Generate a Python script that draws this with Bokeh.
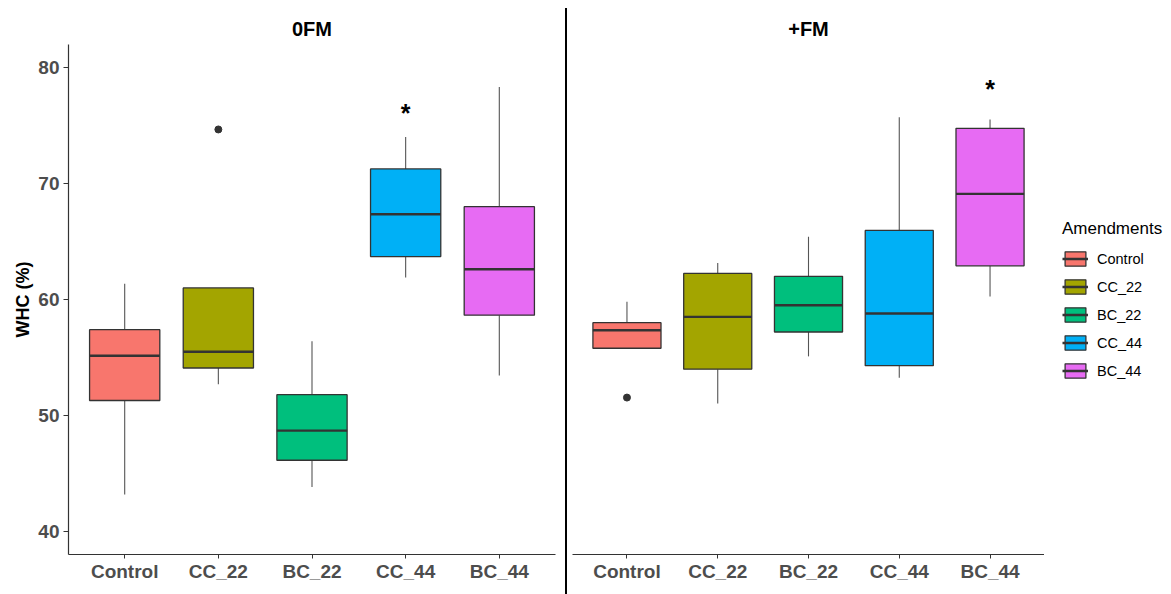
from bokeh.plotting import figure
from bokeh.models import (ColumnDataSource, FactorRange, Range1d, FixedTicker,
                          Legend, LegendItem, Div)
from bokeh.layouts import row
from bokeh.transform import dodge
from bokeh.core.properties import value
from bokeh.embed import file_html
from bokeh.resources import INLINE

amendments = ["Control", "CC_22", "BC_22", "CC_44", "BC_44"]
colors = ["#F8766D", "#A3A500", "#00BF7D", "#00B0F6", "#E76BF3"]
y_ticks = [40, 50, 60, 70, 80]
y_label = "WHC (%)"
legend_title = "Amendments"

# 0FM panel (box statistics)
fm0_lower = [43.2, 52.7, 43.85, 61.9, 53.45]
fm0_q1 = [51.3, 54.1, 46.15, 63.7, 58.65]
fm0_median = [55.15, 55.5, 48.7, 67.35, 62.6]
fm0_q3 = [57.4, 61.0, 51.8, 71.25, 68.0]
fm0_upper = [61.35, 61.0, 56.4, 74.0, 78.3]
fm0_out_x = ["CC_22"]
fm0_out_y = [74.65]
fm0_sig_x = ["CC_44"]
fm0_sig_y = [76.05]

# +FM panel
fmp_lower = [55.8, 51.05, 55.1, 53.25, 60.25]
fmp_q1 = [55.8, 54.0, 57.2, 54.3, 62.9]
fmp_median = [57.35, 58.5, 59.5, 58.8, 69.1]
fmp_q3 = [58.0, 62.25, 62.0, 65.95, 74.75]
fmp_upper = [59.8, 63.15, 65.4, 75.7, 75.5]
fmp_out_x = ["Control"]
fmp_out_y = [51.55]
fmp_sig_x = ["BC_44"]
fmp_sig_y = [78.1]

FONT = "Liberation Sans"
H = 594


def stats_source(lower, q1, med, q3, upper):
    return ColumnDataSource(dict(x=amendments, lower=lower, q1=q1, med=med,
                                 q3=q3, upper=upper, color=colors))


def draw_boxes(p, src):
    w1 = p.segment(x0="x", y0="q3", x1="x", y1="upper", source=src,
                   line_color="#555555", line_width=1.1)
    w2 = p.segment(x0="x", y0="lower", x1="x", y1="q1", source=src,
                   line_color="#555555", line_width=1.1)
    box = p.vbar(x="x", width=0.75, top="q3", bottom="q1", source=src,
                 fill_color="color", line_color="#333333", line_width=1.3)
    medr = p.segment(x0=dodge("x", -0.375, range=p.x_range), y0="med",
                     x1=dodge("x", 0.375, range=p.x_range), y1="med",
                     source=src, line_color="#333333", line_width=2.4)
    return [w1, w2, box, medr]


def make_panel(title, src, out_x, out_y, sig_x, sig_y, width, mbl, mbr, show_y):
    p = figure(x_range=FactorRange(factors=amendments, range_padding=0.1,
                                   range_padding_units="absolute"),
               y_range=Range1d(38.03, 81.97), width=width, height=H,
               output_backend="svg", toolbar_location=None,
               y_axis_location="left" if show_y else None,
               min_border_left=mbl, min_border_right=mbr,
               min_border_top=44, min_border_bottom=H - 554)
    p.outline_line_color = None
    p.background_fill_color = "white"
    p.border_fill_color = "white"
    p.xgrid.visible = False
    p.ygrid.visible = False

    p.title.text = title
    p.title.align = "center"
    p.title.text_font = FONT
    p.title.text_font_size = "20px"
    p.title.text_font_style = "bold"
    p.title.text_color = "black"
    p.title.standoff = 9

    draw_boxes(p, src)
    p.scatter(x=out_x, y=out_y, size=7, color="#333333")
    p.text(x=sig_x, y=sig_y, text=["*"], text_font=value(FONT),
           text_font_size="25px", text_font_style="bold", text_color="black",
           text_align="center", text_baseline="middle")

    for ax in p.axis:
        ax.axis_line_color = "#333333"
        ax.axis_line_width = 1.2
        ax.major_tick_line_color = "#333333"
        ax.major_tick_in = 0
        ax.major_tick_out = 4
        ax.minor_tick_line_color = None
        ax.major_label_text_font = FONT
        ax.major_label_text_font_size = "19px"
        ax.major_label_text_font_style = "bold"
        ax.major_label_text_color = "#4D4D4D"
    p.xaxis.major_label_standoff = 2
    if show_y:
        p.yaxis.ticker = FixedTicker(ticks=y_ticks)
        p.yaxis.major_tick_out = 5
        p.yaxis.major_label_standoff = 4
        p.yaxis.axis_label = y_label
        p.yaxis.axis_label_text_font = FONT
        p.yaxis.axis_label_text_font_size = "18px"
        p.yaxis.axis_label_text_font_style = "bold"
        p.yaxis.axis_label_text_color = "black"
        p.yaxis.axis_label_standoff = 2
    return p


src0 = stats_source(fm0_lower, fm0_q1, fm0_median, fm0_q3, fm0_upper)
srcp = stats_source(fmp_lower, fmp_q1, fmp_median, fmp_q3, fmp_upper)

left = make_panel("0FM", src0, fm0_out_x, fm0_out_y, fm0_sig_x, fm0_sig_y,
                  width=565, mbl=68, mbr=10, show_y=True)
right = make_panel("+FM", srcp, fmp_out_x, fmp_out_y, fmp_sig_x, fmp_sig_y,
                   width=477, mbl=5, mbr=0, show_y=False)

# legend figure: its renderers are hidden, only the legend is drawn
leg_fig = figure(x_range=FactorRange(factors=amendments),
                 y_range=Range1d(38.03, 81.97), title=None,
                 width=127, height=H, output_backend="svg",
                 toolbar_location=None, x_axis_location=None,
                 y_axis_location=None, min_border_left=0, min_border_right=0,
                 min_border_top=14, min_border_bottom=0)
leg_fig.outline_line_color = None
leg_fig.xgrid.visible = False
leg_fig.ygrid.visible = False
leg_rs = draw_boxes(leg_fig, stats_source(fmp_lower, fmp_q1, fmp_median,
                                          fmp_q3, fmp_upper))
for r in leg_rs:
    r.visible = False
lbox, lmed = leg_rs[2], leg_rs[3]

items = [LegendItem(label=a, renderers=[lbox, lmed], index=i)
         for i, a in enumerate(amendments)]
legend = Legend(items=items, title=legend_title, location="left",
                click_policy="none")
legend.title_text_font = FONT
legend.title_text_font_size = "17px"
legend.title_text_font_style = "normal"
legend.title_text_color = "black"
legend.title_standoff = 11
legend.label_text_font = FONT
legend.label_text_font_size = "14.5px"
legend.label_text_color = "black"
legend.glyph_width = 26
legend.glyph_height = 18
legend.label_height = 18
legend.spacing = 10
legend.label_standoff = 9
legend.padding = 4
legend.margin = 18
legend.border_line_color = None
legend.background_fill_color = None
leg_fig.add_layout(legend, "center")

divider = Div(width=2, height=H - 8, margin=(8, 0, 0, 0),
              styles={"background-color": "black"})

layout = row(left, divider, right, leg_fig)

with open("out.html", "w") as f:
    f.write(file_html(layout, INLINE))
